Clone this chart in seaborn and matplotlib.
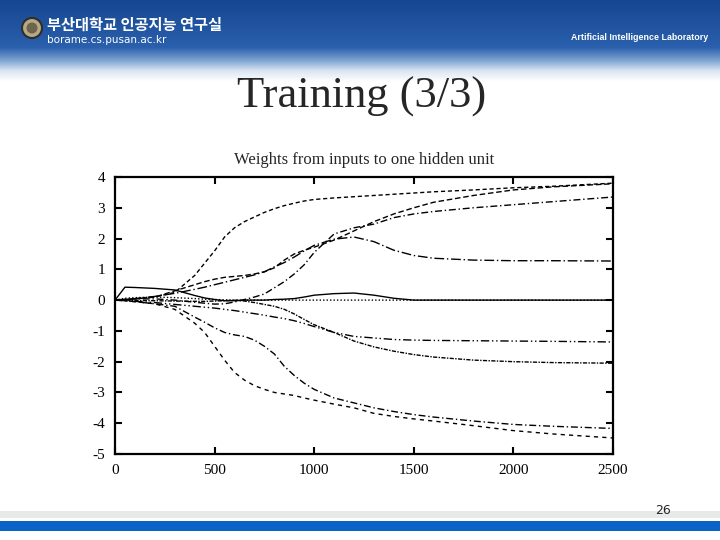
import numpy as np
import pandas as pd
import seaborn as sns
import matplotlib.pyplot as plt
from matplotlib.colors import LinearSegmentedColormap
from matplotlib.patches import Rectangle, Circle

#################### Data ####################

iterations = [0, 50, 100, 200, 300, 400, 450, 500, 550, 600, 650, 700, 750, 800,
              850, 900, 950, 1000, 1100, 1200, 1300, 1400, 1500, 1600, 1800, 2000, 2200, 2500]

w_a = [0, 0.02, 0.04, 0.1, 0.25, 0.8, 1.2, 1.6, 2.05, 2.35, 2.55, 2.7, 2.85, 2.97,
       3.07, 3.15, 3.22, 3.27, 3.32, 3.36, 3.4, 3.44, 3.48, 3.52, 3.58, 3.65, 3.7, 3.8]
w_b = [0, 0.03, 0.04, 0.04, 0.0, -0.07, -0.1, -0.13, -0.12, -0.06, 0.02, 0.1, 0.2, 0.4,
       0.6, 0.85, 1.15, 1.55, 2.15, 2.35, 2.47, 2.68, 2.8, 2.88, 3.0, 3.1, 3.2, 3.35]
w_c = [0, 0.02, 0.04, 0.1, 0.3, 0.5, 0.6, 0.68, 0.74, 0.77, 0.8, 0.85, 0.92, 1.05,
       1.3, 1.5, 1.62, 1.72, 1.95, 2.25, 2.55, 2.8, 3.0, 3.18, 3.4, 3.58, 3.68, 3.78]
w_d = [0, 0.02, 0.05, 0.12, 0.22, 0.35, 0.42, 0.5, 0.58, 0.66, 0.74, 0.82, 0.92, 1.08,
       1.22, 1.4, 1.6, 1.78, 1.98, 2.05, 1.9, 1.62, 1.45, 1.36, 1.3, 1.28, 1.28, 1.27]
w_e = [0, 0.42, 0.41, 0.38, 0.33, 0.15, 0.07, 0.02, -0.02, -0.02, 0, 0, 0, 0.02,
       0.03, 0.05, 0.1, 0.16, 0.21, 0.23, 0.16, 0.06, 0, 0, 0, 0, 0, 0]
w_f = [0, 0.06, 0.08, 0.1, 0.08, 0.05, 0.03, 0.02, 0.01, 0, 0, 0, 0, 0,
       0, 0, 0, 0, 0, 0, 0, 0, 0, 0, 0, 0, 0, 0]
w_h = [0, -0.02, -0.04, -0.08, -0.14, -0.2, -0.23, -0.26, -0.3, -0.34, -0.39, -0.44, -0.49, -0.55,
       -0.6, -0.67, -0.76, -0.86, -1.05, -1.18, -1.23, -1.28, -1.3, -1.31, -1.32, -1.33, -1.34, -1.36]
w_i = [0, 0, -0.01, -0.02, -0.03, -0.04, -0.04, -0.03, -0.02, 0, -0.03, -0.08, -0.14, -0.2,
       -0.3, -0.45, -0.63, -0.8, -1.05, -1.33, -1.52, -1.66, -1.77, -1.85, -1.95, -2.0, -2.03, -2.05]
w_j = [0, -0.02, -0.05, -0.12, -0.2, -0.55, -0.72, -0.9, -1.05, -1.13, -1.18, -1.3, -1.5, -1.75,
       -2.15, -2.45, -2.7, -2.9, -3.18, -3.34, -3.5, -3.62, -3.72, -3.8, -3.93, -4.04, -4.1, -4.17]
w_k = [0, -0.02, -0.05, -0.12, -0.3, -0.75, -1.05, -1.5, -1.95, -2.35, -2.6, -2.78, -2.9, -3.0,
       -3.05, -3.1, -3.18, -3.25, -3.38, -3.5, -3.68, -3.78, -3.86, -3.93, -4.08, -4.24, -4.35, -4.48]

units = ['a', 'b', 'c', 'd', 'e', 'f', 'h', 'i', 'j', 'k']
weights = [w_a, w_b, w_c, w_d, w_e, w_f, w_h, w_i, w_j, w_k]

x_ticks = [0, 500, 1000, 1500, 2000, 2500]
y_ticks = [-5, -4, -3, -2, -1, 0, 1, 2, 3, 4]

df = pd.DataFrame({
    'iteration': iterations * len(units),
    'weight': [v for w in weights for v in w],
    'unit': [u for u in units for _ in iterations],
})

#################### Style ####################

sns.set_style('white')
plt.rcParams['font.family'] = ['Liberation Serif', 'DejaVu Serif']
plt.rcParams['axes.unicode_minus'] = False

line_dashes = {
    'a': (3, 2), 'b': (5, 2, 1, 2), 'c': (4, 2), 'd': (7, 2, 1, 2), 'e': '',
    'f': (1, 1.5), 'h': (6, 2, 1, 2, 1, 2), 'i': (1, 1, 3, 1), 'j': (5, 2, 1, 2), 'k': (3, 3),
}

W, H = 720, 540
fig = plt.figure(figsize=(7.2, 5.4), dpi=100)
fig.patch.set_facecolor('white')

#################### Header banner ####################

head = fig.add_axes([0, 1 - 82 / H, 1, 82 / H])
banner = LinearSegmentedColormap.from_list(
    'banner', [(0, '#164690'), (0.58, '#2a60ad'), (0.74, '#7fa5d3'), (0.87, '#dce6f2'), (1, '#ffffff')])
head.imshow(np.linspace(0, 1, 200).reshape(-1, 1), aspect='auto', cmap=banner, extent=[0, W, 82, 0])
head.add_patch(Circle((32, 28), 10, facecolor='#b7a982', edgecolor='#2e2e2e', lw=1.5))
head.add_patch(Circle((32, 28), 5.5, facecolor='#6d6450', edgecolor='none'))
head.set_xlim(0, W)
head.set_ylim(82, 0)
head.axis('off')

fig.text(47 / W, 1 - 25 / H, '부산대학교 인공지능 연구실', color='white', fontsize=11,
         fontweight='bold', family=['Noto Sans CJK KR', 'DejaVu Sans'], va='center')
fig.text(47 / W, 1 - 40 / H, 'borame.cs.pusan.ac.kr', color='white', fontsize=7.5,
         family='DejaVu Sans', va='center')
fig.text(708 / W, 1 - 37 / H, 'Artificial Intelligence Laboratory', color='white', fontsize=6.4,
         fontweight='bold', family='Liberation Sans', va='center', ha='right')

fig.text(362 / W, 1 - 97 / H, 'Training (3/3)', fontsize=32, ha='center', va='center')

#################### Footer ####################

fig.patches.append(Rectangle((0, 1 - 518 / H), 1, 7 / H, transform=fig.transFigure,
                             facecolor='#e8eae8', edgecolor='none'))
fig.patches.append(Rectangle((0, 1 - 531 / H), 1, 10 / H, transform=fig.transFigure,
                             facecolor='#0a64c8', edgecolor='none'))
fig.text(663 / W, 1 - 511 / H, '26', fontsize=9, family='Liberation Sans Narrow',
         ha='center', va='center')

#################### Chart ####################

ax = fig.add_axes([115 / W, 1 - 454 / H, 498 / W, 277 / H])
sns.lineplot(data=df, x='iteration', y='weight', hue='unit', style='unit',
             palette=['black'] * len(units), dashes=line_dashes, estimator=None,
             sort=False, legend=False, linewidth=1.0, ax=ax)

ax.set_xlim(0, 2500)
ax.set_ylim(-5, 4)
ax.set_xticks(x_ticks)
ax.set_yticks(y_ticks)
ax.set_xlabel('')
ax.set_ylabel('')
ax.tick_params(direction='in', bottom=True, left=True, top=True, right=True, length=5,
               width=1.5, labelsize=11, pad=7, colors='black')
for s in ax.spines.values():
    s.set_linewidth(1.6)
    s.set_color('black')

fig.text(364 / W, 1 - 160 / H, 'Weights from inputs to one hidden unit', fontsize=12,
         ha='center', va='center')

plt.savefig('out.png', dpi=100)
